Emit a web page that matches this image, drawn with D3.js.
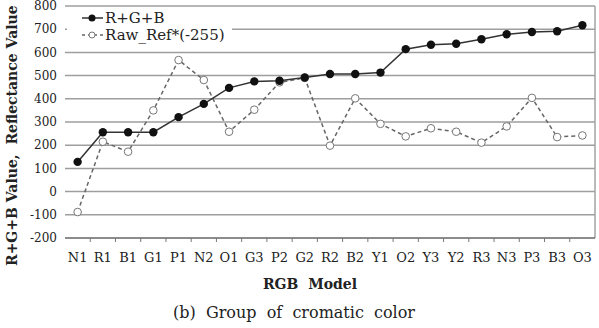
<!DOCTYPE html>
<html>
<head>
<meta charset="utf-8">
<script src="https://cdn.jsdelivr.net/npm/d3@7"></script>
<style>
  body { margin: 0; background: #fff; }
</style>
</head>
<body>
<div class="container"></div>
<script>
const models = ['N1','R1','B1','G1','P1','N2','O1','G3','P2','G2','R2','B2','Y1','O2','Y3','Y2','R3','N3','P3','B3','O3'];
const rgbSum = [128,256,256,256,321,378,447,475,478,492,507,507,513,614,633,637,657,678,688,691,717];
const rawRef = [-88,215,172,350,567,481,258,353,471,490,198,402,292,238,273,258,211,281,404,235,242];
const yTicks = [-200,-100,0,100,200,300,400,500,600,700,800];

const W = 599, H = 328;
const margin = {top: 6, right: 4, bottom: 90, left: 65};
const width = W - margin.left - margin.right;
const height = H - margin.top - margin.bottom;
const serif = "'DejaVu Serif', serif";

const svg = d3.select(".container").append("svg")
    .attr("width", W)
    .attr("height", H)
    .style("font-family", serif);

const g = svg.append("g")
    .attr("transform", `translate(${margin.left},${margin.top})`);

const x = d3.scaleBand().domain(models).range([0, width]);
const y = d3.scaleLinear().domain([-200, 800]).range([height, 0]);

// gridlines
g.selectAll(".grid")
  .data(yTicks.filter(d => d > -200))
  .enter().append("line")
  .attr("x1", 0).attr("x2", width)
  .attr("y1", d => y(d)).attr("y2", d => y(d))
  .attr("stroke", "#9e9e9e")
  .attr("stroke-width", 1.5);

// right border
g.append("line")
  .attr("x1", width).attr("x2", width)
  .attr("y1", 0).attr("y2", height)
  .attr("stroke", "#a3a3a3").attr("stroke-width", 1.5);

// y axis labels
g.selectAll(".ylab")
  .data(yTicks)
  .enter().append("text")
  .attr("x", -8)
  .attr("y", d => y(d))
  .attr("dy", "0.35em")
  .attr("text-anchor", "end")
  .attr("font-size", "12px")
  .attr("fill", "#222")
  .text(d => d);

// x axis
const xAxis = g.append("g")
  .attr("transform", `translate(0,${height})`);
xAxis.append("line")
  .attr("x1", 0).attr("x2", width)
  .attr("stroke", "#666").attr("stroke-width", 1.5);
xAxis.selectAll(".tick")
  .data(models.slice(1))
  .enter().append("line")
  .attr("x1", d => x(d)).attr("x2", d => x(d))
  .attr("y1", 0).attr("y2", 4)
  .attr("stroke", "#777");
xAxis.selectAll(".xlab")
  .data(models)
  .enter().append("text")
  .attr("x", d => x(d) + x.bandwidth() / 2)
  .attr("y", 24)
  .attr("text-anchor", "middle")
  .attr("font-size", "13px")
  .attr("fill", "#222")
  .text(d => d);

// legend background
g.append("rect")
  .attr("x", 2).attr("y", 2)
  .attr("width", 165).attr("height", 42)
  .attr("fill", "#fff");

const line = d3.line()
  .x((d, i) => x(models[i]) + x.bandwidth() / 2)
  .y(d => y(d));

g.append("path")
  .datum(rawRef)
  .attr("d", line)
  .attr("fill", "none")
  .attr("stroke", "#666")
  .attr("stroke-width", 1.5)
  .attr("stroke-dasharray", "4,3");

g.append("path")
  .datum(rgbSum)
  .attr("d", line)
  .attr("fill", "none")
  .attr("stroke", "#333")
  .attr("stroke-width", 1.5);

g.selectAll(".raw")
  .data(rawRef)
  .enter().append("circle")
  .attr("cx", (d, i) => x(models[i]) + x.bandwidth() / 2)
  .attr("cy", d => y(d))
  .attr("r", 3.8)
  .attr("fill", "#fff")
  .attr("stroke", "#777")
  .attr("stroke-width", 1);

g.selectAll(".rgb")
  .data(rgbSum)
  .enter().append("circle")
  .attr("cx", (d, i) => x(models[i]) + x.bandwidth() / 2)
  .attr("cy", d => y(d))
  .attr("r", 4.2)
  .attr("fill", "#111");

// legend
const legend = g.append("g").attr("transform", "translate(17,12)");
legend.append("line").attr("x1", 0).attr("x2", 21).attr("y1", 0).attr("y2", 0)
  .attr("stroke", "#333").attr("stroke-width", 1.5);
legend.append("circle").attr("cx", 10).attr("cy", 0).attr("r", 3.5).attr("fill", "#111");
legend.append("text").attr("x", 23).attr("y", 0).attr("dy", "0.35em")
  .attr("font-size", "15px").attr("fill", "#222").text("R+G+B");
legend.append("line").attr("x1", 0).attr("x2", 21).attr("y1", 17).attr("y2", 17)
  .attr("stroke", "#666").attr("stroke-width", 1.5).attr("stroke-dasharray", "3,3");
legend.append("circle").attr("cx", 10).attr("cy", 17).attr("r", 3)
  .attr("fill", "#fff").attr("stroke", "#777");
legend.append("text").attr("x", 23).attr("y", 17).attr("dy", "0.35em")
  .attr("font-size", "15px").attr("fill", "#222").text("Raw_Ref*(-255)");

// axis titles
svg.append("text")
  .attr("transform", "translate(17,266) rotate(-90)")
  .attr("text-anchor", "start")
  .attr("font-size", "14px")
  .attr("font-weight", "bold")
  .attr("fill", "#222")
  .attr("xml:space", "preserve")
  .text("R+G+B Value,  Reflectance Value");

svg.append("text")
  .attr("x", 310).attr("y", 289)
  .attr("text-anchor", "middle")
  .attr("font-size", "14px")
  .attr("font-weight", "bold")
  .attr("fill", "#222")
  .attr("xml:space", "preserve")
  .text("RGB  Model");

svg.append("text")
  .attr("x", 294).attr("y", 318)
  .attr("text-anchor", "middle")
  .attr("font-size", "16px")
  .attr("fill", "#222")
  .attr("xml:space", "preserve")
  .text("(b)  Group  of  cromatic  color");
</script>
</body>
</html>
